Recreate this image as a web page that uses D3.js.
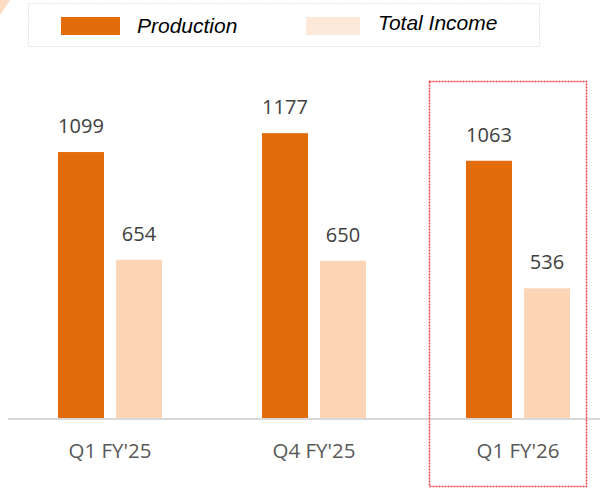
<!DOCTYPE html>
<html>
<head>
<meta charset="utf-8">
<script src="https://cdn.jsdelivr.net/npm/d3@7"></script>
<style>
  html, body { margin: 0; padding: 0; background: #ffffff; }
  svg { display: block; }
</style>
</head>
<body>
<script>
const categories = ["Q1 FY'25", "Q4 FY'25", "Q1 FY'26"];
const seriesNames = ["Production", "Total Income"];
const production = [1099, 1177, 1063];
const totalIncome = [654, 650, 536];

const W = 600, H = 488;
const colors = { "Production": "#e36c0a", "Total Income": "#fbd5b5" };
const legendColors = { "Production": "#e36c0a", "Total Income": "#fde9d9" };

const svg = d3.select("body").append("svg").attr("width", W).attr("height", H);

// decorative corner
svg.append("polygon").attr("points", "0,0 10,0 0,15").attr("fill", "#fcdcc2");

const x0 = d3.scaleBand().domain(categories).range([8, 620]).paddingInner(0.49).paddingOuter(0.245);
const x1 = d3.scaleBand().domain(seriesNames).range([0, x0.bandwidth()]).paddingInner(12 / 58);
const y = d3.scaleLinear().domain([0, 1000]).range([418, 176]);

const data = categories.map((c, i) => ({
  cat: c,
  values: [
    { key: "Production", value: production[i] },
    { key: "Total Income", value: totalIncome[i] }
  ]
}));

const groups = svg.selectAll("g.grp").data(data).enter().append("g")
  .attr("class", "grp")
  .attr("transform", d => `translate(${x0(d.cat)},0)`);

groups.selectAll("rect").data(d => d.values).enter().append("rect")
  .attr("x", d => x1(d.key))
  .attr("y", d => y(d.value))
  .attr("width", x1.bandwidth())
  .attr("height", d => y(0) - y(d.value))
  .attr("fill", d => colors[d.key]);

groups.selectAll("text.val").data(d => d.values).enter().append("text")
  .attr("class", "val")
  .attr("x", d => x1(d.key) + x1.bandwidth() / 2)
  .attr("y", d => y(d.value) - 19)
  .attr("text-anchor", "middle")
  .attr("font-family", "'Open Sans', sans-serif")
  .attr("font-size", 20)
  .attr("fill", "#404040")
  .text(d => d.value);

// baseline axis
const xAxis = d3.axisBottom(x0).tickSize(0).tickPadding(0);
const axisG = svg.append("g").attr("transform", `translate(0,${y(0) + 1})`).call(xAxis);
axisG.select(".domain").attr("d", `M8,0H600`).attr("stroke", "#d9d9d9").attr("stroke-width", 2);
axisG.selectAll(".tick text")
  .attr("y", 39)
  .attr("dy", 0)
  .attr("font-family", "'Open Sans', sans-serif")
  .attr("font-size", 20.5)
  .attr("fill", "#595959");

// legend
svg.append("rect").attr("x", 28.5).attr("y", 3.5).attr("width", 511).attr("height", 43)
  .attr("fill", "none").attr("stroke", "#dbe4ef").attr("stroke-width", 1).attr("stroke-dasharray", "2,1");

const legendItems = [
  { key: "Production", sx: 61, sw: 59, tx: 137, ty: 33 },
  { key: "Total Income", sx: 306, sw: 54, tx: 378, ty: 30 }
];
legendItems.forEach(l => {
  svg.append("rect").attr("x", l.sx).attr("y", 17).attr("width", l.sw).attr("height", 18)
    .attr("fill", legendColors[l.key]);
  svg.append("text").attr("x", l.tx).attr("y", l.ty)
    .attr("font-family", "'Liberation Sans', Arial, sans-serif")
    .attr("font-style", "italic")
    .attr("font-size", 21)
    .attr("fill", "#000000")
    .text(l.key);
});

// highlight box
svg.append("rect").attr("x", 429.5).attr("y", 81.5).attr("width", 157).attr("height", 405)
  .attr("fill", "none").attr("stroke", "#f03c46").attr("stroke-width", 1.5).attr("stroke-dasharray", "2,1");
</script>
</body>
</html>
